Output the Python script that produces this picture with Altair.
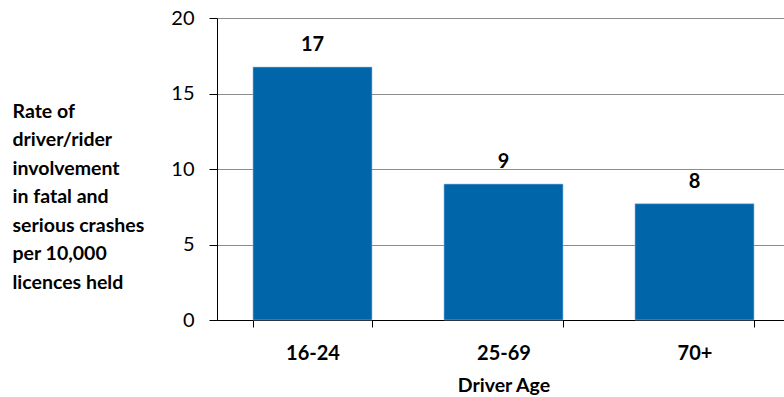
import altair as alt
import pandas as pd

# Crash involvement rate by driver age group
age_groups = ["16-24", "25-69", "70+"]
rates = [16.75, 9.0, 7.7]

df = pd.DataFrame({"age": age_groups, "rate": rates})

FONT = "Lato"
BAR = "#0065A9"

y_title = [
    "Rate of",
    "driver/rider",
    "involvement",
    "in fatal and",
    "serious crashes",
    "per 10,000",
    "licences held",
]

x_enc = alt.X(
    "age:N",
    sort=age_groups,
    scale=alt.Scale(range=[0, 573], paddingInner=0.377, paddingOuter=0.1885),
    axis=alt.Axis(
        title="Driver Age",
        labelAngle=0,
        labelFont=FONT,
        labelFontWeight="bold",
        labelFontSize=20,
        labelColor="#000000",
        labelPadding=16,
        titleFont=FONT,
        titleFontWeight="bold",
        titleFontSize=19.5,
        titleColor="#000000",
        titlePadding=13,
        domainColor="#000000",
        domainWidth=1,
        tickColor="#000000",
        tickSize=7,
        tickBand="extent",
        grid=False,
    ),
)

y_enc = alt.Y(
    "rate:Q",
    scale=alt.Scale(domain=[0, 20], nice=False),
    axis=alt.Axis(
        values=[0, 5, 10, 15, 20],
        title=y_title,
        titleAngle=0,
        titleAlign="left",
        titleBaseline="alphabetic",
        titleX=-205,
        titleY=99,
        titleLineHeight=28.5,
        titleFont=FONT,
        titleFontWeight="bold",
        titleFontSize=19.5,
        titleColor="#000000",
        labelFont=FONT,
        labelFontSize=20,
        labelColor="#000000",
        labelPadding=15,
        domainColor="#000000",
        domainWidth=1,
        tickColor="#000000",
        tickSize=8,
        gridColor="#8c8c8c",
        gridWidth=1,
    ),
)

bars = alt.Chart(df).mark_bar(color=BAR, stroke="#8dbbe0", strokeWidth=0.6).encode(
    x=x_enc, y=y_enc
)

labels = alt.Chart(df).mark_text(
    font=FONT, fontWeight="bold", fontSize=20, color="#000000",
    baseline="alphabetic", dy=-16,
).encode(
    x=alt.X("age:N", sort=age_groups),
    y="rate:Q",
    text=alt.Text("rate:Q", format=".0f"),
)

chart = (
    alt.layer(bars, labels)
    .properties(
        width=567,
        height=302,
        padding={"left": 217, "top": 18, "right": 0, "bottom": 77},
        autosize=alt.AutoSizeParams(type="none"),
        background="#ffffff",
    )
    .configure_view(stroke=None)
)

chart.save("out.html", embed_options={"renderer": "svg", "actions": False})
